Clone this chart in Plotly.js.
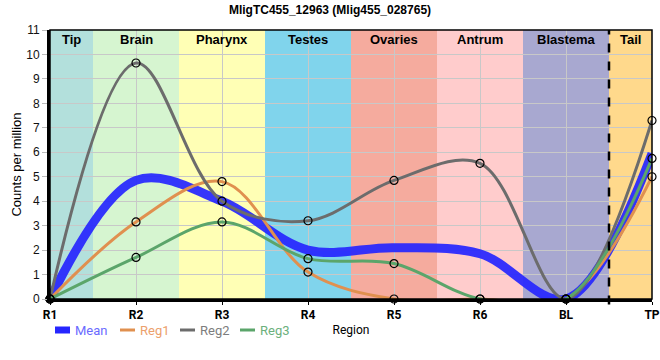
<!DOCTYPE html>
<html><head><meta charset="utf-8">
<script src="https://cdn.plot.ly/plotly-3.0.1.min.js"></script>
<style>html,body{margin:0;padding:0;background:#fff}#chart{width:660px;height:360px}</style>
</head><body><div id="chart"></div>
<script>
const categories = ['R1','R2','R3','R4','R5','R6','BL','TP'];
const meanVals = [0, 4.85, 4.0, 2.0, 2.1, 1.85, 0, 5.95];
const reg1Vals = [0, 3.15, 4.8, 1.1, 0, 0, 0, 5.0];
const reg2Vals = [0, 9.65, 4.0, 3.2, 4.85, 5.55, 0, 7.3];
const reg3Vals = [0, 1.7, 3.15, 1.65, 1.45, 0, 0, 5.75];
const seriesNames = ['Mean','Reg1','Reg2','Reg3'];
const bandNames = ['Tip','Brain','Pharynx','Testes','Ovaries','Antrum','Blastema','Tail'];
const bandColors = ['#b3e0dc','#d6f5d0','#ffffb5','#80d4ec','#f5ab9e','#ffcccc','#a8a8d0','#ffd98c'];

const lineColors = ['rgb(38,38,255)','#e0904f','#6c6c6c','#5ba56a'];
const legendTextColors = ['#6b6bff','#eca06c','#7d7d7d','#6cb07c'];
const lineWidths = [9,3,3,3];

function lineTrace(i, y){
  return {x:categories, y:y, type:'scatter', mode:'lines', name:seriesNames[i], showlegend:false,
    line:{color:lineColors[i], width:lineWidths[i], shape:'spline', smoothing:1}, opacity:i===0?0.92:1, hoverinfo:'skip'};
}
function markerTrace(y){
  return {x:categories, y:y, type:'scatter', mode:'markers', showlegend:false, cliponaxis:false,
    marker:{symbol:'circle', size:8, color:'rgba(0,0,0,0)', line:{color:'#000', width:1.2}}, hoverinfo:'skip'};
}
const data = [
  lineTrace(0, meanVals), lineTrace(1, reg1Vals), lineTrace(2, reg2Vals), lineTrace(3, reg3Vals),
  markerTrace(reg1Vals), markerTrace(reg2Vals), markerTrace(reg3Vals)
];

const W = 660, H = 360, mL = 50, mR = 8, mT = 30, mB = 61;
const pw = W - mL - mR, ph = H - mT - mB;
const px2x = p => (p - mL) / pw;
const py2y = p => (H - mB - p) / ph;

const last = categories.length - 1;
const shapes = [];
const annotations = [];
bandNames.forEach((n,i)=>{
  const x0 = Math.max(0, i-0.5), x1 = Math.min(last, i+0.5);
  shapes.push({type:'rect', layer:'below', xref:'x', yref:'paper', x0:x0, x1:x1, y0:0, y1:1,
    fillcolor:bandColors[i], line:{width:0}});
  annotations.push({xref:'x', yref:'paper', x:(x0+x1)/2, y:1, yanchor:'top', showarrow:false,
    text:'<b>'+n+'</b>', font:{family:'Liberation Sans, Arial, sans-serif', size:13, color:'#000'}});
});
shapes.push({type:'line', xref:'x', yref:'paper', x0:last-0.5, x1:last-0.5, y0:-0.02, y1:1,
  line:{color:'#000', width:2.5, dash:'dash'}, layer:'above'});
shapes.push({type:'rect', xref:'paper', yref:'paper', x0:0, x1:1, y0:0, y1:1, line:{color:'#000', width:1.5}, layer:'above'});

// legend drawn as shapes + text
const legSym = [[55,70],[120,135],[180,195],[240,255]];
const legText = [74,139,199,259];
const legY = py2y(330);
seriesNames.forEach((n,i)=>{
  shapes.push({type:'line', xref:'paper', yref:'paper', x0:px2x(legSym[i][0]), x1:px2x(legSym[i][1]), y0:legY, y1:legY,
    line:{color:lineColors[i], width:i===0?7:3}, layer:'above'});
  annotations.push({xref:'paper', yref:'paper', x:px2x(legText[i]), y:legY, xanchor:'left', yanchor:'middle',
    showarrow:false, borderpad:0, text:n, font:{family:'Roboto, sans-serif', size:13, color:legendTextColors[i]}});
});

const layout = {
  width:W, height:H,
  margin:{l:mL, r:mR, t:mT, b:mB, autoexpand:false},
  paper_bgcolor:'#fff', plot_bgcolor:'#fff',
  title:{text:'<b>MligTC455_12963 (Mlig455_028765)</b>', x:0.5, xanchor:'center', y:0.972, yanchor:'middle',
    font:{family:'Liberation Sans, Arial, sans-serif', size:12, color:'#000'}},
  xaxis:{type:'category', categoryorder:'array', categoryarray:categories, range:[0,last],
    showgrid:true, gridcolor:'#c8c8c8', gridwidth:1, zeroline:false,
    showline:true, linecolor:'#000', linewidth:3,
    ticks:'outside', ticklen:3, tickcolor:'#000',
    tickfont:{family:'Roboto, sans-serif', size:12, color:'#000', weight:'bold'},
    title:{text:'Region', font:{family:'Roboto, sans-serif', size:12, color:'#000'}, standoff:5}},
  yaxis:{range:[0,11], dtick:1, tick0:0, showgrid:true, gridcolor:'#c8c8c8', gridwidth:1, zeroline:false,
    showline:true, linecolor:'#000', linewidth:3,
    ticks:'outside', ticklen:5, tickcolor:'#bbb',
    tickfont:{family:'Liberation Sans, Arial, sans-serif', size:12, color:'#111'},
    title:{text:'Counts per million', font:{family:'Liberation Sans, Arial, sans-serif', size:13, color:'#000'}, standoff:2}},
  showlegend:false,
  shapes:shapes, annotations:annotations
};
Plotly.newPlot('chart', data, layout, {displayModeBar:false, staticPlot:true});
</script></body></html>
